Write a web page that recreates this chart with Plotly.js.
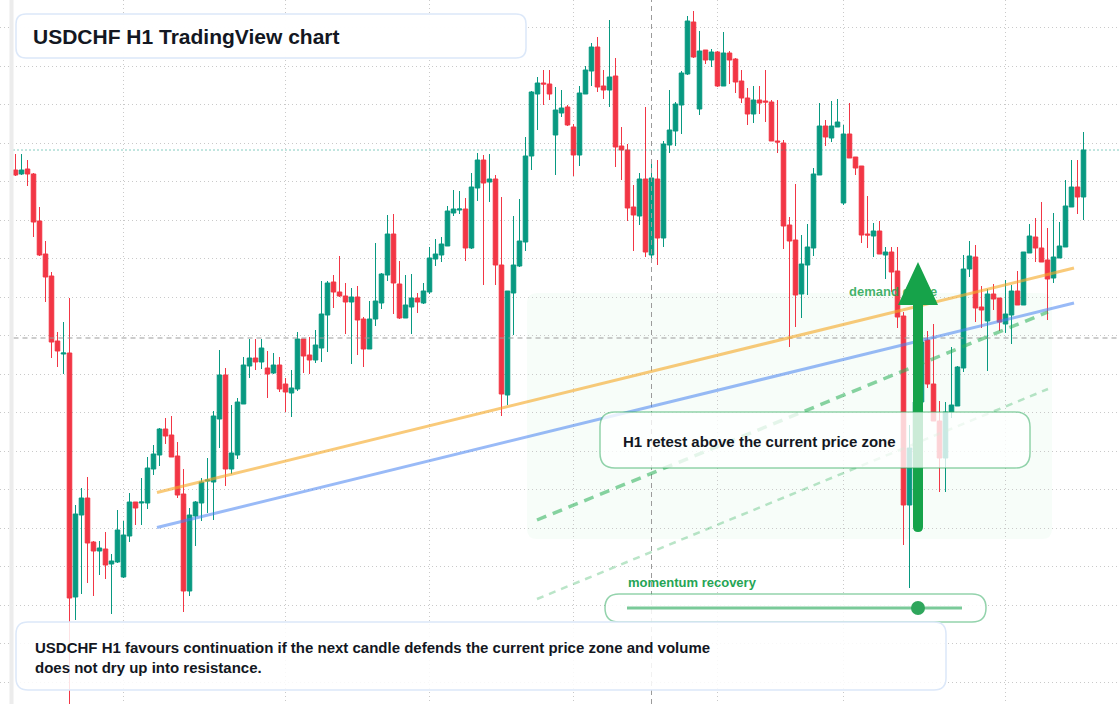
<!DOCTYPE html>
<html>
<head>
<meta charset="utf-8">
<script src="https://cdn.plot.ly/plotly-3.0.1.min.js"></script>
<style>
  html, body { margin: 0; padding: 0; background: #ffffff; }
  #chart { width: 1120px; height: 704px; }
</style>
</head>
<body>
<div id="chart"></div>
<script>
"use strict";

// USDCHF H1 candles (oldest first)
const open = [
    0.89830, 0.89826, 0.89831, 0.89826, 0.89779, 0.89746, 0.89724, 0.89659, 0.89646, 0.89647,
    0.89403, 0.89485, 0.89502, 0.89458, 0.89449, 0.89451, 0.89436, 0.89438, 0.89423, 0.89464,
    0.89498, 0.89497, 0.89497, 0.89531, 0.89545, 0.89571, 0.89565, 0.89544, 0.89506, 0.89409,
    0.89484, 0.89497, 0.89519, 0.89518, 0.89581, 0.89625, 0.89531, 0.89545, 0.89596, 0.89634,
    0.89642, 0.89638, 0.89632, 0.89627, 0.89635, 0.89616, 0.89607, 0.89611, 0.89661, 0.89645,
    0.89640, 0.89652, 0.89685, 0.89718, 0.89708, 0.89704, 0.89698, 0.89703, 0.89681, 0.89651,
    0.89681, 0.89697, 0.89725, 0.89766, 0.89716, 0.89682, 0.89693, 0.89702, 0.89697, 0.89708,
    0.89741, 0.89745, 0.89754, 0.89787, 0.89790, 0.89791, 0.89752, 0.89812, 0.89840, 0.89818,
    0.89821, 0.89735, 0.89605, 0.89707, 0.89734, 0.89758, 0.89844, 0.89906, 0.89917, 0.89916,
    0.89865, 0.89887, 0.89893, 0.89873, 0.89845, 0.89906, 0.89929, 0.89953, 0.89914, 0.89910,
    0.89924, 0.89854, 0.89850, 0.89793, 0.89784, 0.89821, 0.89745, 0.89821, 0.89762, 0.89855,
    0.89869, 0.89895, 0.89926, 0.89978, 0.89891, 0.89950, 0.89940, 0.89948, 0.89914, 0.89947,
    0.89941, 0.89919, 0.89902, 0.89886, 0.89900, 0.89899, 0.89898, 0.89859, 0.89857, 0.89775,
    0.89760, 0.89706, 0.89735, 0.89752, 0.89825, 0.89874, 0.89862, 0.89873, 0.89797, 0.89866,
    0.89843, 0.89834, 0.89766, 0.89764, 0.89769, 0.89745, 0.89748, 0.89729, 0.89684, 0.89495,
    0.89550, 0.89598, 0.89660, 0.89616, 0.89579, 0.89542, 0.89588, 0.89594, 0.89632, 0.89731,
    0.89743, 0.89693, 0.89679, 0.89706, 0.89702, 0.89676, 0.89685, 0.89709, 0.89695, 0.89747,
    0.89763, 0.89752, 0.89740, 0.89722, 0.89742, 0.89753, 0.89793, 0.89813, 0.89803
];
const high = [
    0.89846, 0.89846, 0.89840, 0.89827, 0.89793, 0.89759, 0.89728, 0.89668, 0.89678, 0.89702,
    0.89495, 0.89512, 0.89523, 0.89459, 0.89459, 0.89468, 0.89446, 0.89490, 0.89479, 0.89507,
    0.89498, 0.89522, 0.89543, 0.89555, 0.89572, 0.89582, 0.89584, 0.89558, 0.89531, 0.89492,
    0.89499, 0.89522, 0.89542, 0.89589, 0.89650, 0.89632, 0.89595, 0.89602, 0.89643, 0.89661,
    0.89661, 0.89661, 0.89649, 0.89647, 0.89643, 0.89622, 0.89630, 0.89668, 0.89661, 0.89663,
    0.89670, 0.89719, 0.89719, 0.89725, 0.89744, 0.89717, 0.89712, 0.89714, 0.89683, 0.89699,
    0.89757, 0.89727, 0.89785, 0.89786, 0.89739, 0.89725, 0.89726, 0.89707, 0.89717, 0.89753,
    0.89761, 0.89763, 0.89794, 0.89810, 0.89809, 0.89802, 0.89827, 0.89847, 0.89845, 0.89846,
    0.89825, 0.89803, 0.89709, 0.89784, 0.89801, 0.89863, 0.89909, 0.89923, 0.89930, 0.89930,
    0.89913, 0.89910, 0.89895, 0.89876, 0.89914, 0.89934, 0.89957, 0.89963, 0.89930, 0.89980,
    0.89942, 0.89873, 0.89856, 0.89815, 0.89827, 0.89893, 0.89838, 0.89840, 0.89859, 0.89910,
    0.89898, 0.89929, 0.89984, 0.89989, 0.89969, 0.89950, 0.89951, 0.89949, 0.89968, 0.89949,
    0.89942, 0.89930, 0.89912, 0.89914, 0.89914, 0.89930, 0.89900, 0.89900, 0.89860, 0.89783,
    0.89816, 0.89765, 0.89776, 0.89832, 0.89897, 0.89880, 0.89899, 0.89901, 0.89875, 0.89897,
    0.89843, 0.89834, 0.89804, 0.89777, 0.89779, 0.89753, 0.89753, 0.89753, 0.89688, 0.89575,
    0.89605, 0.89665, 0.89669, 0.89676, 0.89599, 0.89598, 0.89653, 0.89634, 0.89745, 0.89759,
    0.89755, 0.89714, 0.89711, 0.89716, 0.89702, 0.89720, 0.89715, 0.89729, 0.89748, 0.89776,
    0.89782, 0.89798, 0.89772, 0.89787, 0.89778, 0.89820, 0.89840, 0.89840, 0.89868
];
const low = [
    0.89824, 0.89825, 0.89814, 0.89763, 0.89744, 0.89698, 0.89642, 0.89633, 0.89626, 0.89296,
    0.89380, 0.89406, 0.89417, 0.89404, 0.89425, 0.89421, 0.89386, 0.89437, 0.89422, 0.89458,
    0.89475, 0.89475, 0.89491, 0.89525, 0.89534, 0.89556, 0.89543, 0.89502, 0.89388, 0.89404,
    0.89454, 0.89479, 0.89487, 0.89480, 0.89552, 0.89514, 0.89526, 0.89541, 0.89596, 0.89622,
    0.89630, 0.89631, 0.89602, 0.89626, 0.89608, 0.89588, 0.89583, 0.89609, 0.89627, 0.89626,
    0.89637, 0.89638, 0.89648, 0.89692, 0.89703, 0.89666, 0.89636, 0.89645, 0.89633, 0.89651,
    0.89674, 0.89691, 0.89719, 0.89686, 0.89681, 0.89682, 0.89666, 0.89687, 0.89696, 0.89706,
    0.89734, 0.89738, 0.89754, 0.89784, 0.89786, 0.89739, 0.89751, 0.89799, 0.89715, 0.89798,
    0.89715, 0.89584, 0.89595, 0.89665, 0.89733, 0.89749, 0.89830, 0.89870, 0.89895, 0.89900,
    0.89825, 0.89883, 0.89874, 0.89824, 0.89834, 0.89906, 0.89914, 0.89908, 0.89901, 0.89893,
    0.89833, 0.89820, 0.89779, 0.89749, 0.89775, 0.89743, 0.89737, 0.89735, 0.89753, 0.89847,
    0.89854, 0.89866, 0.89925, 0.89942, 0.89885, 0.89936, 0.89933, 0.89913, 0.89914, 0.89916,
    0.89907, 0.89897, 0.89875, 0.89877, 0.89886, 0.89878, 0.89859, 0.89847, 0.89751, 0.89653,
    0.89673, 0.89682, 0.89705, 0.89744, 0.89825, 0.89854, 0.89858, 0.89873, 0.89795, 0.89842,
    0.89825, 0.89757, 0.89752, 0.89743, 0.89746, 0.89721, 0.89708, 0.89672, 0.89455, 0.89412,
    0.89530, 0.89590, 0.89612, 0.89579, 0.89508, 0.89508, 0.89582, 0.89594, 0.89628, 0.89723,
    0.89678, 0.89672, 0.89629, 0.89690, 0.89669, 0.89667, 0.89656, 0.89695, 0.89695, 0.89747,
    0.89738, 0.89738, 0.89680, 0.89717, 0.89742, 0.89753, 0.89793, 0.89786, 0.89780
];
const close = [
    0.89825, 0.89830, 0.89826, 0.89778, 0.89745, 0.89723, 0.89658, 0.89649, 0.89647, 0.89402,
    0.89486, 0.89502, 0.89457, 0.89449, 0.89452, 0.89435, 0.89439, 0.89470, 0.89465, 0.89498,
    0.89492, 0.89498, 0.89532, 0.89546, 0.89571, 0.89564, 0.89543, 0.89505, 0.89409, 0.89485,
    0.89498, 0.89518, 0.89520, 0.89584, 0.89625, 0.89531, 0.89547, 0.89598, 0.89635, 0.89642,
    0.89638, 0.89652, 0.89626, 0.89635, 0.89611, 0.89608, 0.89612, 0.89661, 0.89644, 0.89640,
    0.89655, 0.89686, 0.89717, 0.89708, 0.89704, 0.89698, 0.89703, 0.89680, 0.89651, 0.89681,
    0.89699, 0.89726, 0.89766, 0.89717, 0.89682, 0.89695, 0.89702, 0.89698, 0.89709, 0.89742,
    0.89746, 0.89756, 0.89789, 0.89791, 0.89791, 0.89752, 0.89813, 0.89840, 0.89817, 0.89821,
    0.89735, 0.89606, 0.89709, 0.89735, 0.89759, 0.89844, 0.89908, 0.89917, 0.89916, 0.89906,
    0.89890, 0.89892, 0.89875, 0.89845, 0.89907, 0.89930, 0.89953, 0.89913, 0.89910, 0.89923,
    0.89853, 0.89850, 0.89792, 0.89785, 0.89821, 0.89748, 0.89822, 0.89762, 0.89856, 0.89870,
    0.89896, 0.89927, 0.89979, 0.89943, 0.89949, 0.89940, 0.89948, 0.89914, 0.89947, 0.89940,
    0.89918, 0.89902, 0.89886, 0.89900, 0.89897, 0.89898, 0.89859, 0.89858, 0.89774, 0.89759,
    0.89705, 0.89736, 0.89753, 0.89826, 0.89874, 0.89863, 0.89874, 0.89878, 0.89866, 0.89842,
    0.89832, 0.89765, 0.89765, 0.89769, 0.89746, 0.89748, 0.89728, 0.89683, 0.89495, 0.89552,
    0.89598, 0.89658, 0.89616, 0.89579, 0.89542, 0.89588, 0.89595, 0.89633, 0.89731, 0.89744,
    0.89692, 0.89690, 0.89706, 0.89701, 0.89678, 0.89686, 0.89709, 0.89695, 0.89748, 0.89764,
    0.89752, 0.89738, 0.89721, 0.89743, 0.89754, 0.89794, 0.89813, 0.89803, 0.89850
];

// grid: session separators (bar index) and price levels
const sessionBars = [18, 45, 69, 93, 117, 138, 165];
const priceLevels = [
    0.899725, 0.899340, 0.898955, 0.898570, 0.898185, 0.897800, 0.897415, 0.897030, 0.896645,
    0.896260, 0.895875, 0.895490, 0.895105, 0.894720, 0.894335, 0.893950, 0.893565, 0.893180
];
const crosshairBar = 106;
const crosshairPrice = 0.89662;

const titleText = 'USDCHF H1 TradingView chart';
const noteText = 'USDCHF H1 favours continuation if the next candle defends the current price zone and volume<br>does not dry up into resistance.';
const retestText = 'H1 retest above the current price zone';
const momentumText = 'momentum recovery';
const demandText = 'demand guide';

// --- page geometry (pixels -> paper) ---
const W = 1120, H = 704;
const px = v => v / W;
const py = v => 1 - v / H;
const BAR0 = 15.5, BAR_STEP = 6;           // pixel centre of first bar, bar spacing
const barAt = x => (x - BAR0) / BAR_STEP;   // pixel -> bar index (for labels only)
const FONT = '"Liberation Sans", Arial, sans-serif';
const INK = '#131722';

function roundRect(x0, y0, x1, y1, r) {
    const P = (x, y) => px(x) + ',' + py(y);
    return 'M' + P(x0 + r, y0) + ' L' + P(x1 - r, y0) + ' Q' + P(x1, y0) + ' ' + P(x1, y0 + r) +
        ' L' + P(x1, y1 - r) + ' Q' + P(x1, y1) + ' ' + P(x1 - r, y1) +
        ' L' + P(x0 + r, y1) + ' Q' + P(x0, y1) + ' ' + P(x0, y1 - r) +
        ' L' + P(x0, y0 + r) + ' Q' + P(x0, y0) + ' ' + P(x0 + r, y0) + ' Z';
}

function paperLine(x0, y0, x1, y1, color, width, dash) {
    return {
        type: 'line', xref: 'paper', yref: 'paper', layer: 'above',
        x0: px(x0), y0: py(y0), x1: px(x1), y1: py(y1),
        line: { color: color, width: width, dash: dash || 'solid' }
    };
}

function box(x0, y0, x1, y1, r, fill, border) {
    return {
        type: 'path', xref: 'paper', yref: 'paper', layer: 'above',
        path: roundRect(x0, y0, x1, y1, r),
        fillcolor: fill, line: { color: border, width: 1.5 }
    };
}

const bars = open.map((_, i) => i);
const lastClose = close[close.length - 1];

const candles = {
    type: 'candlestick',
    x: bars, open: open, high: high, low: low, close: close,
    increasing: { line: { color: '#089981', width: 1 }, fillcolor: '#089981' },
    decreasing: { line: { color: '#f23645', width: 1 }, fillcolor: '#f23645' },
    whiskerwidth: 0,
    hoverinfo: 'skip',
    showlegend: false
};

// label under the arrow, so it goes in as a trace
const demandLabel = {
    type: 'scatter', mode: 'text',
    x: [barAt(849)], y: [0.89707],
    text: ['<b>' + demandText + '</b>'],
    textposition: 'middle right',
    textfont: { family: FONT, size: 13, color: 'rgba(30,165,80,0.85)' },
    hoverinfo: 'skip', showlegend: false
};

const arrowPath = (() => {
    const P = (x, y) => px(x) + ',' + py(y);
    return 'M' + P(918, 262) + ' L' + P(938, 305) + ' L' + P(923, 305) + ' L' + P(923, 527) +
        ' Q' + P(923, 532) + ' ' + P(918, 532) + ' Q' + P(913, 532) + ' ' + P(913, 527) +
        ' L' + P(913, 305) + ' L' + P(898, 305) + ' Z';
})();

const shapes = [
    // demand zone shading
    { type: 'path', xref: 'paper', yref: 'paper', layer: 'below',
      path: roundRect(527, 293, 1052, 539, 10),
      fillcolor: 'rgba(34,197,94,0.035)', line: { width: 0 } },
    // crosshair + last price line
    { type: 'line', xref: 'x', yref: 'paper', layer: 'above',
      x0: crosshairBar, x1: crosshairBar, y0: 0, y1: 1,
      line: { color: '#9b9b9b', width: 1, dash: '5px,4px' } },
    { type: 'line', xref: 'paper', yref: 'y', layer: 'above',
      x0: px(13.5), x1: 1, y0: crosshairPrice, y1: crosshairPrice,
      line: { color: '#9b9b9b', width: 1, dash: '5px,4px' } },
    { type: 'line', xref: 'paper', yref: 'y', layer: 'above',
      x0: px(13.5), x1: 1, y0: lastClose, y1: lastClose,
      line: { color: '#089981', width: 1, dash: '1px,3px' } },
    // drawn trend lines
    paperLine(157, 492.5, 1074, 268, 'rgba(246,170,40,0.62)', 3),
    paperLine(157, 527.5, 1074, 303, 'rgba(70,130,240,0.55)', 3),
    paperLine(537, 520, 1048, 312, 'rgba(40,175,85,0.55)', 3.5, '10px,7px'),
    paperLine(537, 599, 1048, 389, 'rgba(40,175,85,0.32)', 2.5, '7px,6px'),
    // up arrow
    { type: 'path', xref: 'paper', yref: 'paper', layer: 'above', path: arrowPath,
      fillcolor: '#16a34a', line: { width: 0 } },
    // boxes
    box(600, 412, 1030, 468, 15, 'rgba(255,255,255,0.78)', 'rgba(40,167,90,0.5)'),
    box(605, 594, 986, 622, 14, 'rgba(255,255,255,0.85)', 'rgba(40,167,90,0.5)'),
    box(16, 622, 946, 690, 12, 'rgba(255,255,255,0.86)', '#dce8f9'),
    box(16, 14, 526, 58, 10, 'rgba(255,255,255,0.97)', '#dce8f9'),
    // momentum slider
    paperLine(627, 608, 962, 608, 'rgba(40,170,90,0.62)', 3),
    { type: 'circle', xref: 'paper', yref: 'paper', layer: 'above',
      x0: px(911), x1: px(925), y0: py(615), y1: py(601),
      fillcolor: '#2fa65c', line: { width: 0 } },
    // left edge strip
    { type: 'rect', xref: 'paper', yref: 'paper', layer: 'above',
      x0: px(9.5), x1: px(13.5), y0: 0, y1: 1,
      fillcolor: '#ececec', line: { width: 0 } }
];

const annotations = [
    { xref: 'paper', yref: 'paper', x: px(31), y: py(36), xanchor: 'left', yanchor: 'middle',
      text: '<b>' + titleText + '</b>', showarrow: false,
      font: { family: FONT, size: 21, color: INK } },
    { xref: 'paper', yref: 'paper', x: px(33), y: py(657), xanchor: 'left', yanchor: 'middle',
      align: 'left', text: '<b>' + noteText + '</b>', showarrow: false,
      font: { family: FONT, size: 15, color: INK } },
    { xref: 'paper', yref: 'paper', x: px(621), y: py(441), xanchor: 'left', yanchor: 'middle',
      text: '<b>' + retestText + '</b>', showarrow: false,
      font: { family: FONT, size: 15, color: INK } },
    { xref: 'paper', yref: 'paper', x: px(626), y: py(582), xanchor: 'left', yanchor: 'middle',
      text: '<b>' + momentumText + '</b>', showarrow: false,
      font: { family: FONT, size: 13, color: '#25a555' } }
];

const layout = {
    width: W, height: H,
    margin: { l: 0, r: 0, t: 0, b: 0, pad: 0 },
    paper_bgcolor: '#ffffff',
    plot_bgcolor: '#ffffff',
    showlegend: false,
    boxgap: 0.2,
    boxgroupgap: 0.05,
    xaxis: {
        range: [barAt(0), barAt(W)],
        tickmode: 'array', tickvals: sessionBars,
        showticklabels: false, ticks: '',
        showgrid: true, gridcolor: '#c9c9c9', gridwidth: 1, griddash: '1px,3px',
        zeroline: false, showline: false,
        rangeslider: { visible: false },
        fixedrange: true
    },
    yaxis: {
        range: [0.9 - H / 1e5, 0.9],
        tickmode: 'array', tickvals: priceLevels,
        showticklabels: false, ticks: '',
        showgrid: true, gridcolor: '#c9c9c9', gridwidth: 1, griddash: '1px,3px',
        zeroline: false, showline: false,
        fixedrange: true
    },
    shapes: shapes,
    annotations: annotations
};

Plotly.newPlot('chart', [candles, demandLabel], layout, { displayModeBar: false, staticPlot: true });
</script>
</body>
</html>
